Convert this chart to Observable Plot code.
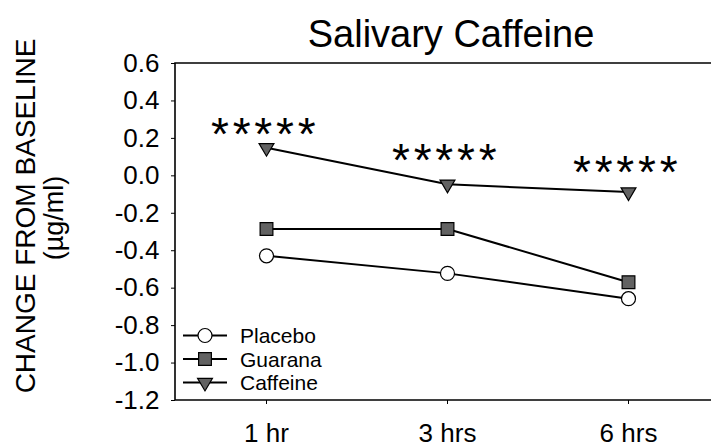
<!DOCTYPE html>
<html><head><meta charset="utf-8">
<script src="https://cdn.jsdelivr.net/npm/d3@7"></script>
<script src="https://cdn.jsdelivr.net/npm/@observablehq/plot@0.6"></script>
<style>
html,body{margin:0;padding:0;background:#fff;overflow:hidden}
#chart svg{font-family:"Liberation Sans",Arial,sans-serif;display:block}
</style>
</head><body><div id="chart"></div>
<script>
// ---- data ----
const times = ["1 hr", "3 hrs", "6 hrs"];
const series = ["Placebo", "Guarana", "Caffeine"];
const placebo = [-0.427, -0.521, -0.656];
const guarana = [-0.284, -0.284, -0.568];
const caffeine = [0.15, -0.045, -0.087];
const significance = ["*****", "*****", "*****"];
const significanceY = [0.249, 0.112, 0.044];
const yTicks = [0.6, 0.4, 0.2, 0.0, -0.2, -0.4, -0.6, -0.8, -1.0, -1.2];
const title = "Salivary Caffeine";
const yLabel1 = "CHANGE FROM BASELINE";
const yLabel2 = "(\u00b5g/ml)";

const valuesBySeries = [placebo, guarana, caffeine];
const rows = series.flatMap((s, i) => times.map((t, j) => ({series: s, time: t, value: valuesBySeries[i][j]})));
const sigRows = times.map((t, j) => ({time: t, value: significanceY[j], text: significance[j]}));

const grey = "#626262";
const triangleDown = {
  draw(ctx, size) {
    const s = Math.sqrt(size);
    const w = s * 1.2, h = s * 1.02;
    ctx.moveTo(-w / 2, -h / 3);
    ctx.lineTo(w / 2, -h / 3);
    ctx.lineTo(0, 2 * h / 3);
    ctx.closePath();
  }
};
const styles = {
  Placebo: {symbol: "circle", fill: "white", r: 7},
  Guarana: {symbol: "square", fill: grey, r: 7.2},
  Caffeine: {symbol: triangleDown, fill: grey, r: 7}
};
const d3Symbol = s => s === "circle" ? d3.symbolCircle : s === "square" ? d3.symbolSquare : s;

function decorations(index, scales, values, dims) {
  const g = d3.create("svg:g").attr("fill", "black");
  const left = dims.marginLeft, top = dims.marginTop, bottom = dims.height - dims.marginBottom;
  // frame: left, top, bottom (right side lies beyond the picture)
  g.append("path").attr("fill", "none").attr("stroke", "black").attr("stroke-width", 1.6)
    .attr("d", `M${dims.width},${top}H${left}V${bottom}H${dims.width}`);
  // title
  g.append("text").attr("x", 451).attr("y", 47).attr("text-anchor", "middle")
    .attr("font-size", 38).text(title);
  // y label
  g.append("text").attr("transform", "translate(35,216) rotate(-90)").attr("text-anchor", "middle")
    .attr("font-size", 28).text(yLabel1);
  g.append("text").attr("transform", "translate(63,218) rotate(-90)").attr("text-anchor", "middle")
    .attr("font-size", 27).text(yLabel2);
  // legend
  series.forEach((s, i) => {
    const y = 335.5 + i * 23.5;
    const st = styles[s];
    g.append("line").attr("x1", 183).attr("x2", 227).attr("y1", y).attr("y2", y)
      .attr("stroke", "black").attr("stroke-width", 2);
    g.append("path").attr("transform", `translate(205,${y})`)
      .attr("d", d3.symbol(d3Symbol(st.symbol), st.r * st.r * Math.PI)())
      .attr("fill", st.fill).attr("stroke", "black").attr("stroke-width", 1.2);
    g.append("text").attr("x", 240).attr("y", y).attr("dy", "0.36em").attr("text-anchor", "start")
      .attr("font-size", 21).text(s);
  });
  return g.node();
}

const chart = Plot.plot({
  width: 711,
  height: 448,
  marginLeft: 175,
  marginRight: -7,
  marginTop: 63,
  marginBottom: 48,
  style: {fontFamily: "Liberation Sans, Arial, sans-serif", background: "white", color: "black"},
  x: {domain: times, type: "point", padding: 0.5, label: null, tickSize: 4, tickPadding: 19},
  y: {domain: [-1.2, 0.6], ticks: yTicks, label: null, tickSize: 4, tickPadding: 12,
      tickFormat: d => d.toFixed(1).replace("\u2212", "-")},
  marks: [
    Plot.line(rows, {x: "time", y: "value", z: "series", stroke: "black", strokeWidth: 2}),
    ...series.map(s => Plot.dot(rows.filter(d => d.series === s), {
      x: "time", y: "value", symbol: styles[s].symbol, r: styles[s].r,
      fill: styles[s].fill, stroke: "black", strokeWidth: 1.2
    })),
    Plot.text(sigRows, {x: "time", y: "value", text: "text", fontSize: 46, dy: 6, dx: -3.2}),
    decorations
  ]
});
document.getElementById("chart").appendChild(chart);
const svg = d3.select(chart);
svg.selectAll("[aria-label='y-axis tick label']").attr("font-size", 26);
svg.selectAll("[aria-label='x-axis tick label']").attr("font-size", 26);
svg.selectAll("[aria-label='y-axis tick label'] text, [aria-label='x-axis tick label'] text").attr("font-size", null);
svg.selectAll("text").filter(function() { return significance.includes(this.textContent); })
  .style("letter-spacing", "3.8px").attr("dx", 1.9);
</script>
</body></html>
